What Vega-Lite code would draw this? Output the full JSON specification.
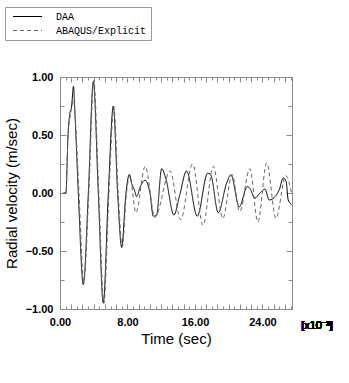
{
  "$schema": "https://vega.github.io/schema/vega-lite/v6.json",
  "width": 232,
  "height": 232,
  "autosize": {"type": "none"},
  "padding": {"left": 60, "top": 77, "right": 57, "bottom": 74},
  "background": "white",
  "config": {
    "view": {"stroke": "#8a8a8a", "strokeWidth": 1},
    "axis": {
      "domain": false,
      "grid": false,
      "tickColor": "#8a8a8a",
      "tickWidth": 1,
      "labelFont": "Liberation Sans",
      "labelFontWeight": "bold",
      "labelFontSize": 11,
      "labelColor": "#000",
      "titleFont": "Liberation Sans",
      "titleFontWeight": "normal",
      "titleFontSize": 15,
      "titleColor": "#000"
    },
    "legend": {
      "title": null,
      "orient": "none",
      "legendX": -55,
      "legendY": -70,
      "strokeColor": "#999999",
      "fillColor": "white",
      "padding": 4,
      "symbolType": "M-0.3,0H5.5",
      "symbolSize": 100,
      "symbolStrokeWidth": 1,
      "labelFont": "Liberation Mono",
      "labelFontSize": 10,
      "labelColor": "#000",
      "labelOffset": 36,
      "rowPadding": 3
    }
  },
  "data": {
    "values": [
      {"t": 0.4, "v": 0, "series": "DAA"},
      {"t": 0.7, "v": 0, "series": "DAA"},
      {"t": 0.95, "v": 0.5, "series": "DAA"},
      {"t": 1.2, "v": 0.7, "series": "DAA"},
      {"t": 1.35, "v": 0.73, "series": "DAA"},
      {"t": 1.6, "v": 0.92, "series": "DAA"},
      {"t": 1.75, "v": 0.72, "series": "DAA"},
      {"t": 2.17, "v": 0, "series": "DAA"},
      {"t": 2.76, "v": -0.79, "series": "DAA"},
      {"t": 3.36, "v": 0, "series": "DAA"},
      {"t": 3.95, "v": 0.96, "series": "DAA"},
      {"t": 4.54, "v": 0, "series": "DAA"},
      {"t": 5.13, "v": -0.95, "series": "DAA"},
      {"t": 5.73, "v": 0, "series": "DAA"},
      {"t": 6.32, "v": 0.75, "series": "DAA"},
      {"t": 6.83, "v": 0, "series": "DAA"},
      {"t": 7.31, "v": -0.47, "series": "DAA"},
      {"t": 7.82, "v": 0, "series": "DAA"},
      {"t": 8.22, "v": 0.16, "series": "DAA"},
      {"t": 8.5, "v": 0.08, "series": "DAA"},
      {"t": 8.8, "v": 0.03, "series": "DAA"},
      {"t": 9.08, "v": -0.03, "series": "DAA"},
      {"t": 9.55, "v": 0.06, "series": "DAA"},
      {"t": 10.07, "v": 0.11, "series": "DAA"},
      {"t": 10.66, "v": 0.0, "series": "DAA"},
      {"t": 11.06, "v": -0.2, "series": "DAA"},
      {"t": 11.45, "v": -0.19, "series": "DAA"},
      {"t": 12.05, "v": 0.21, "series": "DAA"},
      {"t": 12.56, "v": 0.12, "series": "DAA"},
      {"t": 13.5, "v": -0.19, "series": "DAA"},
      {"t": 14.2, "v": -0.015, "series": "DAA"},
      {"t": 15.0, "v": 0.19, "series": "DAA"},
      {"t": 16.27, "v": -0.2, "series": "DAA"},
      {"t": 17.5, "v": 0.17, "series": "DAA"},
      {"t": 17.85, "v": 0.16, "series": "DAA"},
      {"t": 18.76, "v": -0.17, "series": "DAA"},
      {"t": 19.75, "v": 0.085, "series": "DAA"},
      {"t": 20.26, "v": 0.157, "series": "DAA"},
      {"t": 21.25, "v": -0.12, "series": "DAA"},
      {"t": 22.2, "v": 0.056, "series": "DAA"},
      {"t": 22.5, "v": 0.04, "series": "DAA"},
      {"t": 23.1, "v": -0.045, "series": "DAA"},
      {"t": 23.7, "v": 0.0, "series": "DAA"},
      {"t": 24.3, "v": 0.033, "series": "DAA"},
      {"t": 24.8, "v": -0.06, "series": "DAA"},
      {"t": 25.5, "v": -0.03, "series": "DAA"},
      {"t": 26.0, "v": 0.03, "series": "DAA"},
      {"t": 26.46, "v": 0.13, "series": "DAA"},
      {"t": 26.8, "v": 0.1, "series": "DAA"},
      {"t": 27.05, "v": -0.06, "series": "DAA"},
      {"t": 27.45, "v": -0.1, "series": "DAA"},
      {"t": 0.4, "v": 0, "series": "ABAQUS/Explicit"},
      {"t": 0.7, "v": 0, "series": "ABAQUS/Explicit"},
      {"t": 0.95, "v": 0.48, "series": "ABAQUS/Explicit"},
      {"t": 1.3, "v": 0.7, "series": "ABAQUS/Explicit"},
      {"t": 1.62, "v": 0.8, "series": "ABAQUS/Explicit"},
      {"t": 1.8, "v": 0.65, "series": "ABAQUS/Explicit"},
      {"t": 2.25, "v": 0, "series": "ABAQUS/Explicit"},
      {"t": 2.82, "v": -0.76, "series": "ABAQUS/Explicit"},
      {"t": 3.42, "v": 0, "series": "ABAQUS/Explicit"},
      {"t": 4.0, "v": 0.97, "series": "ABAQUS/Explicit"},
      {"t": 4.6, "v": 0, "series": "ABAQUS/Explicit"},
      {"t": 5.2, "v": -0.95, "series": "ABAQUS/Explicit"},
      {"t": 5.8, "v": 0, "series": "ABAQUS/Explicit"},
      {"t": 6.38, "v": 0.74, "series": "ABAQUS/Explicit"},
      {"t": 6.9, "v": 0, "series": "ABAQUS/Explicit"},
      {"t": 7.38, "v": -0.46, "series": "ABAQUS/Explicit"},
      {"t": 7.88, "v": 0, "series": "ABAQUS/Explicit"},
      {"t": 8.28, "v": 0.15, "series": "ABAQUS/Explicit"},
      {"t": 9.0, "v": -0.17, "series": "ABAQUS/Explicit"},
      {"t": 10.1, "v": 0.23, "series": "ABAQUS/Explicit"},
      {"t": 11.26, "v": -0.21, "series": "ABAQUS/Explicit"},
      {"t": 13.05, "v": 0.19, "series": "ABAQUS/Explicit"},
      {"t": 14.3, "v": -0.23, "series": "ABAQUS/Explicit"},
      {"t": 15.72, "v": 0.25, "series": "ABAQUS/Explicit"},
      {"t": 16.95, "v": -0.28, "series": "ABAQUS/Explicit"},
      {"t": 18.17, "v": 0.23, "series": "ABAQUS/Explicit"},
      {"t": 19.3, "v": -0.22, "series": "ABAQUS/Explicit"},
      {"t": 20.4, "v": 0.16, "series": "ABAQUS/Explicit"},
      {"t": 21.3, "v": -0.16, "series": "ABAQUS/Explicit"},
      {"t": 22.5, "v": 0.21, "series": "ABAQUS/Explicit"},
      {"t": 23.45, "v": -0.25, "series": "ABAQUS/Explicit"},
      {"t": 24.5, "v": 0.26, "series": "ABAQUS/Explicit"},
      {"t": 25.6, "v": -0.22, "series": "ABAQUS/Explicit"},
      {"t": 26.75, "v": 0.15, "series": "ABAQUS/Explicit"},
      {"t": 27.5, "v": -0.02, "series": "ABAQUS/Explicit"}
    ]
  },
  "resolve": {"axis": {"x": "independent", "y": "independent"}},
  "layer": [
    {
      "mark": {"type": "line", "strokeWidth": 1, "interpolate": "monotone"},
      "encoding": {
        "x": {
          "field": "t", "type": "quantitative",
          "scale": {"domain": [0, 27.5], "nice": false, "zero": false},
          "axis": {
            "orient": "bottom",
            "values": [0, 1.3333, 2.6667, 4, 5.3333, 6.6667, 8, 9.3333, 10.6667, 12, 13.3333, 14.6667, 16, 17.3333, 18.6667, 20, 21.3333, 22.6667, 24, 25.3333, 26.6667],
            "labelExpr": "abs(datum.value - round(datum.value / 8) * 8) < 0.01 ? format(datum.value, '.2f') : ''",
            "tickSize": -5,
            "labelPadding": 12,
            "labelFlush": false,
            "labelOverlap": false,
            "title": "Time (sec)",
            "titlePadding": 4
          }
        },
        "y": {
          "field": "v", "type": "quantitative",
          "scale": {"domain": [-1, 1], "nice": false, "zero": false},
          "axis": {
            "orient": "left",
            "values": [-1, -0.5, 0, 0.5, 1],
            "format": ".2f",
            "tickSize": -6,
            "labelPadding": 13,
            "labelFlush": false,
            "labelOverlap": false,
            "title": "Radial velocity (m/sec)",
            "titlePadding": 6
          }
        },
        "color": {
          "field": "series", "type": "nominal",
          "scale": {"domain": ["DAA", "ABAQUS/Explicit"], "range": ["#000000", "#666666"]},
          "legend": {"title": null}
        },
        "strokeDash": {
          "field": "series", "type": "nominal",
          "scale": {"domain": ["DAA", "ABAQUS/Explicit"], "range": [[1, 0], [4, 3]]},
          "legend": {"title": null}
        }
      }
    },
    {
      "mark": {"type": "point", "opacity": 0},
      "encoding": {
        "x": {
          "datum": 0, "type": "quantitative",
          "axis": {
            "orient": "bottom",
            "values": [0.6667, 2, 3.3333, 4.6667, 6, 7.3333, 8.6667, 10, 11.3333, 12.6667, 14, 15.3333, 16.6667, 18, 19.3333, 20.6667, 22, 23.3333, 24.6667, 26, 27.3333],
            "labels": false, "tickSize": -3, "title": null
          }
        },
        "y": {
          "datum": 0, "type": "quantitative",
          "axis": {
            "orient": "left",
            "values": [-0.75, -0.25, 0.25, 0.75],
            "labels": false, "tickSize": -4, "title": null
          }
        }
      }
    },
    {
      "mark": {"type": "point", "opacity": 0},
      "encoding": {
        "x": {
          "datum": 0, "type": "quantitative",
          "axis": {
            "orient": "top",
            "values": [0, 1.3333, 2.6667, 4, 5.3333, 6.6667, 8, 9.3333, 10.6667, 12, 13.3333, 14.6667, 16, 17.3333, 18.6667, 20, 21.3333, 22.6667, 24, 25.3333, 26.6667],
            "labels": false, "tickSize": -5, "title": null
          }
        },
        "y": {
          "datum": 0, "type": "quantitative",
          "axis": {
            "orient": "right",
            "values": [-1, -0.5, 0, 0.5, 1],
            "labels": false, "tickSize": -6, "title": null
          }
        }
      }
    },
    {
      "mark": {"type": "point", "opacity": 0},
      "encoding": {
        "x": {
          "datum": 0, "type": "quantitative",
          "axis": {
            "orient": "top",
            "values": [0.6667, 2, 3.3333, 4.6667, 6, 7.3333, 8.6667, 10, 11.3333, 12.6667, 14, 15.3333, 16.6667, 18, 19.3333, 20.6667, 22, 23.3333, 24.6667, 26, 27.3333],
            "labels": false, "tickSize": -3, "title": null
          }
        },
        "y": {
          "datum": 0, "type": "quantitative",
          "axis": {
            "orient": "right",
            "values": [-0.75, -0.25, 0.25, 0.75],
            "labels": false, "tickSize": -4, "title": null
          }
        }
      }
    },
    {
      "mark": {"type": "text", "dy": 17, "baseline": "middle", "align": "center", "clip": false, "font": "Liberation Sans", "fontWeight": "normal", "fontSize": 11, "color": "#000"},
      "encoding": {
        "x": {"datum": 30.45, "type": "quantitative", "axis": null},
        "y": {"datum": -1, "type": "quantitative", "axis": null},
        "text": {"value": "[x10⁻³]"}
      }
    }
  ]
}
